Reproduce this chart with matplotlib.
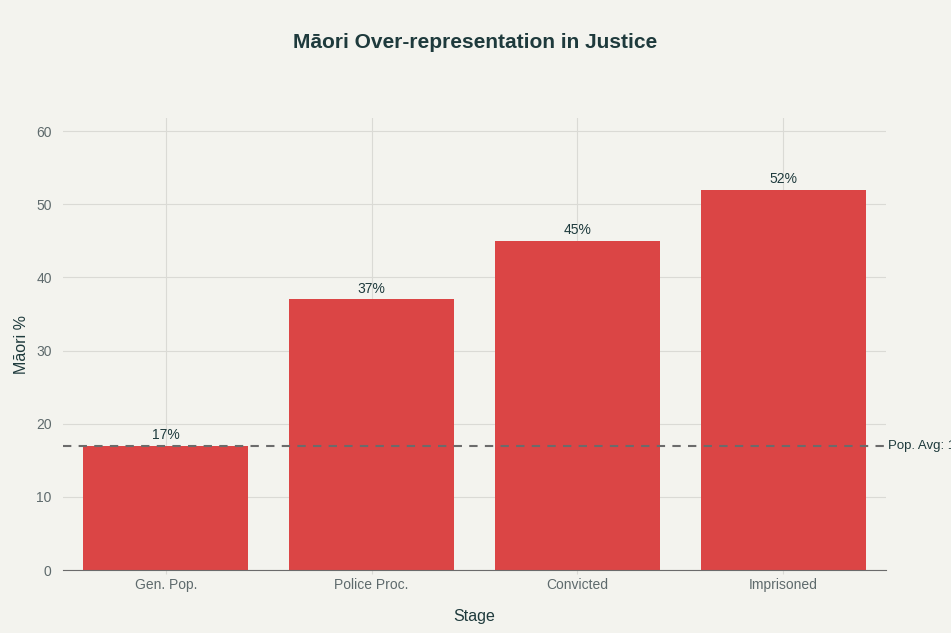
import matplotlib.pyplot as plt

stages = ['Gen. Pop.', 'Police Proc.', 'Convicted', 'Imprisoned']
maori_pct = [17, 37, 45, 52]
pop_avg = 17

bg = '#F3F3EE'
bar_color = '#DB4545'
text_dark = '#1E3A3C'
tick_color = '#5E6A6C'

plt.rcParams['font.family'] = ['Liberation Sans', 'DejaVu Sans']

fig = plt.figure(figsize=(9.51, 6.33), dpi=100, facecolor=bg)
ax = fig.add_axes([0.066, 0.0995, 0.866, 0.714], facecolor=bg)

x = range(len(stages))
bars = ax.bar(x, maori_pct, width=0.8, color=bar_color, zorder=3)
for b, v in zip(bars, maori_pct):
    ax.text(b.get_x() + b.get_width() / 2, v + 0.5, f'{v}%', ha='center', va='bottom',
            fontsize=10, color=text_dark, zorder=4)

ax.axhline(pop_avg, color='#6B6B6B', linestyle=(0, (4, 3.5)), linewidth=1.5, zorder=4)
# label runs off the right edge, same as the original
ax.text(1.002, pop_avg, f'Pop. Avg: {pop_avg}%', transform=ax.get_yaxis_transform(),
        ha='left', va='center', fontsize=9.5, color=text_dark, clip_on=False)

ax.set_xlim(-0.5, 3.5)
ax.set_ylim(0, 61.8)
ax.set_xticks(list(x))
ax.set_xticklabels(stages)
ax.set_yticks(range(0, 61, 10))
ax.grid(True, color='#DADAD5', linewidth=0.8, zorder=0)
for s in ['top', 'right', 'left']:
    ax.spines[s].set_visible(False)
ax.spines['bottom'].set_color('#6B6B6B')
ax.spines['bottom'].set_zorder(5)
ax.tick_params(axis='both', colors=tick_color, labelsize=10, length=0, pad=8)
ax.tick_params(axis='x', length=3, color='#DADAD5', pad=3)

ax.set_xlabel('Stage', fontsize=11.5, color=text_dark, labelpad=12)
ax.set_ylabel('Māori %', fontsize=11.5, color=text_dark, labelpad=5)
fig.suptitle('Māori Over-representation in Justice', fontsize=15, fontweight='bold',
             color=text_dark, y=0.948)

fig.savefig('out.png', dpi=100, facecolor=bg)
